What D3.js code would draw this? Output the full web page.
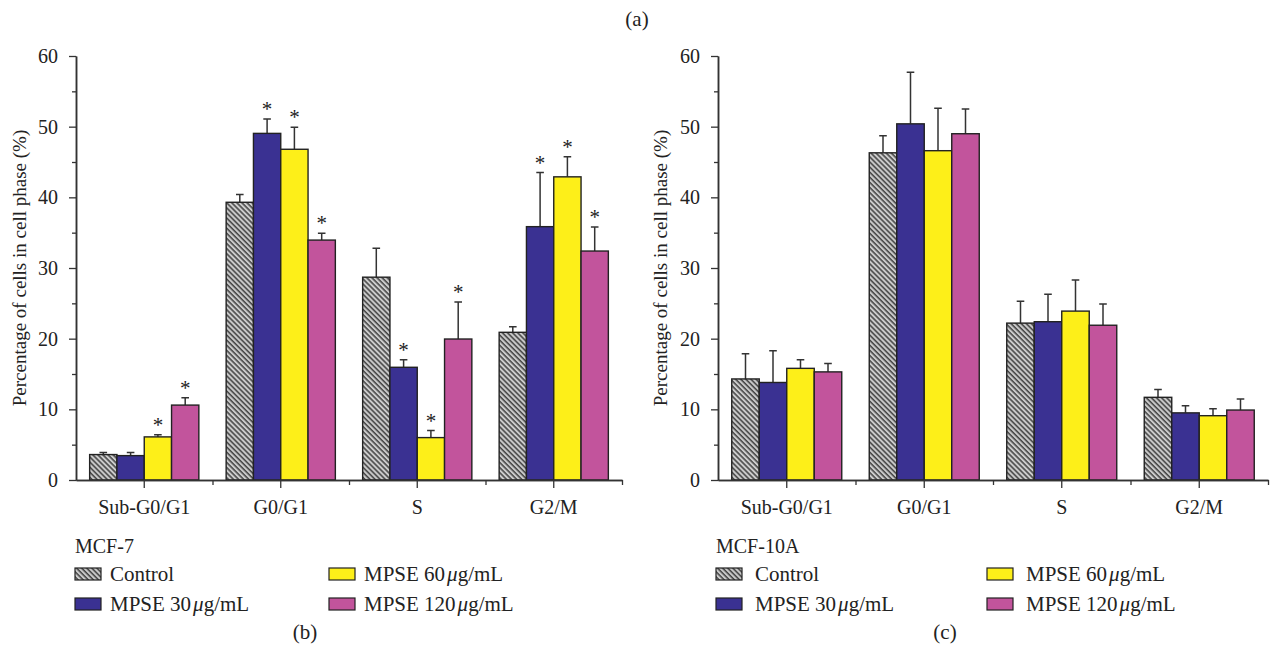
<!DOCTYPE html>
<html>
<head>
<meta charset="utf-8">
<script src="https://cdn.jsdelivr.net/npm/d3@7"></script>
<style>
  body { margin: 0; background: #fff; }
  svg text { font-family: "Liberation Serif", "DejaVu Serif", serif; fill: #222; }
</style>
</head>
<body>
<div id="chart"></div>
<script>
// categories and series
const phases = ["Sub-G0/G1", "G0/G1", "S", "G2/M"];
const seriesNames = ["Control", "MPSE 30", "MPSE 60", "MPSE 120"];

// MCF-7 (panel b)
const mcf7Control = [3.6, 39.3, 28.7, 20.9];
const mcf7Mpse30 = [3.45, 49.05, 15.95, 35.85];
const mcf7Mpse60 = [6.1, 46.8, 6.0, 42.9];
const mcf7Mpse120 = [10.6, 33.95, 19.95, 32.4];
const mcf7ControlErr = [0.3, 1.1, 4.1, 0.8];
const mcf7Mpse30Err = [0.45, 2.05, 1.05, 7.65];
const mcf7Mpse60Err = [0.3, 3.1, 1.0, 2.85];
const mcf7Mpse120Err = [1.05, 0.95, 5.25, 3.4];
const mcf7ControlSig = [false, false, false, false];
const mcf7Mpse30Sig = [false, true, true, true];
const mcf7Mpse60Sig = [true, true, true, true];
const mcf7Mpse120Sig = [true, true, true, true];

// MCF-10A (panel c)
const mcf10aControl = [14.3, 46.3, 22.2, 11.7];
const mcf10aMpse30 = [13.8, 50.4, 22.4, 9.5];
const mcf10aMpse60 = [15.8, 46.6, 23.9, 9.1];
const mcf10aMpse120 = [15.3, 49.0, 21.9, 9.9];
const mcf10aControlErr = [3.55, 2.4, 3.1, 1.1];
const mcf10aMpse30Err = [4.5, 7.3, 3.9, 1.0];
const mcf10aMpse60Err = [1.2, 6.0, 4.4, 1.0];
const mcf10aMpse120Err = [1.2, 3.5, 3.0, 1.55];
const noSig = [false, false, false, false];

const yTicks = [0, 10, 20, 30, 40, 50, 60];
const yMinorTicks = [5, 15, 25, 35, 45, 55];

const fills = ["url(#hatch)", "#3a3192", "#fdef19", "#c2549c"];

const width = 1273, height = 652;

const svg = d3.select("#chart").append("svg")
  .attr("width", width)
  .attr("height", height);

// hatch for the control bars
const pattern = svg.append("defs").append("pattern")
  .attr("id", "hatch")
  .attr("patternUnits", "userSpaceOnUse")
  .attr("width", 3.6)
  .attr("height", 3.6)
  .attr("patternTransform", "rotate(-45)");
pattern.append("rect")
  .attr("width", 3.6).attr("height", 3.6)
  .attr("fill", "#cbcbcb");
pattern.append("line")
  .attr("x1", 1).attr("y1", 0).attr("x2", 1).attr("y2", 3.6)
  .attr("stroke", "#2b2b2b").attr("stroke-width", 1.3);

svg.append("text")
  .attr("x", 637).attr("y", 26)
  .attr("text-anchor", "middle")
  .attr("font-size", 21)
  .text("(a)");

function buildRows(means, errs, sigs) {
  return phases.map((p, i) => ({
    phase: p,
    values: seriesNames.map((s, j) => ({
      series: s, idx: j,
      value: means[j][i], err: errs[j][i], sig: sigs[j][i]
    }))
  }));
}

function drawPanel(cfg) {
  const y = d3.scaleLinear().domain([0, 60]).range([480, 56]);
  const x = d3.scaleBand().domain(phases)
    .range([cfg.left, cfg.right])
    .paddingInner(0.2).paddingOuter(0.1);
  const xs = d3.scaleBand().domain(d3.range(seriesNames.length))
    .range([0, x.bandwidth()]);

  const g = svg.append("g");

  const rows = buildRows(cfg.means, cfg.errs, cfg.sigs);

  const groups = g.selectAll(".grp").data(rows).enter().append("g")
    .attr("transform", d => `translate(${x(d.phase)},0)`);

  // error bars (upper only)
  groups.selectAll(".err").data(d => d.values).enter().append("path")
    .attr("d", d => {
      const cx = xs(d.idx) + xs.bandwidth() / 2;
      const top = y(d.value + d.err);
      return `M${cx},${y(d.value)}V${top}M${cx - 3.8},${top}H${cx + 3.8}`;
    })
    .attr("fill", "none")
    .attr("stroke", "#333")
    .attr("stroke-width", 1.5);

  groups.selectAll(".bar").data(d => d.values).enter().append("rect")
    .attr("x", d => xs(d.idx))
    .attr("y", d => y(d.value))
    .attr("width", xs.bandwidth())
    .attr("height", d => y(0) - y(d.value))
    .attr("fill", d => fills[d.idx])
    .attr("stroke", "#222")
    .attr("stroke-width", 1.4);

  groups.selectAll(".star").data(d => d.values.filter(v => v.sig)).enter().append("text")
    .attr("x", d => xs(d.idx) + xs.bandwidth() / 2)
    .attr("y", d => y(d.value + d.err) - 3)
    .attr("text-anchor", "middle")
    .attr("font-size", 21)
    .attr("fill", "#444")
    .text("*");

  // y axis
  const yAxis = g.append("g")
    .attr("transform", `translate(${cfg.left},0)`)
    .call(d3.axisLeft(y).tickValues(yTicks).tickSize(7).tickSizeOuter(0).tickPadding(11));
  g.append("g")
    .attr("transform", `translate(${cfg.left},0)`)
    .call(d3.axisLeft(y).tickValues(yMinorTicks).tickSize(4).tickSizeOuter(0).tickFormat(""));

  // x axis: major ticks at phases, minor at group boundaries
  const xAxis = g.append("g")
    .attr("transform", "translate(0,480)")
    .call(d3.axisBottom(x).tickSize(8).tickSizeOuter(0).tickPadding(12));
  const xb = d3.scaleLinear().domain([0, phases.length]).range([cfg.left, cfg.right]);
  g.append("g")
    .attr("transform", "translate(0,480)")
    .call(d3.axisBottom(xb).tickValues([1, 2, 3, 4]).tickSize(5).tickSizeOuter(0).tickFormat(""));

  g.selectAll(".domain").attr("stroke", "#333").attr("stroke-width", 1.5);
  g.selectAll(".tick line").attr("stroke", "#333").attr("stroke-width", 1.3);
  yAxis.selectAll("text").attr("font-size", 20).attr("fill", "#222")
    .attr("font-family", "Liberation Serif");
  xAxis.selectAll("text").attr("font-size", 20).attr("fill", "#222")
    .attr("font-family", "Liberation Serif");

  g.append("text")
    .attr("transform", `translate(${cfg.titleX},${(56 + 480) / 2}) rotate(-90)`)
    .attr("text-anchor", "middle")
    .attr("font-size", 19)
    .text("Percentage of cells in cell phase (%)");

  // legend
  const lg = svg.append("g");
  lg.append("text")
    .attr("x", cfg.legendX).attr("y", 553)
    .attr("font-size", 20)
    .text(cfg.cell);

  const legendItems = [
    { idx: 0, col: 0, row: 0, label: "Control" },
    { idx: 1, col: 0, row: 1, label: "MPSE 30", unit: true },
    { idx: 2, col: 1, row: 0, label: "MPSE 60", unit: true },
    { idx: 3, col: 1, row: 1, label: "MPSE 120", unit: true }
  ];
  const item = lg.selectAll(".item").data(legendItems).enter().append("g")
    .attr("transform", d => `translate(${cfg.legendX + d.col * cfg.legendCol},${568 + d.row * 30})`);
  item.append("rect")
    .attr("x", 0).attr("y", 0)
    .attr("width", 26).attr("height", 12)
    .attr("fill", d => fills[d.idx])
    .attr("stroke", "#222")
    .attr("stroke-width", 1.2);
  const t = item.append("text")
    .attr("x", cfg.legendText).attr("y", 12.5)
    .attr("font-size", 21);
  t.append("tspan").text(d => d.label);
  t.filter(d => d.unit).append("tspan").attr("dx", 2).attr("font-style", "italic").text("\u03bc");
  t.filter(d => d.unit).append("tspan").text("g/mL");

  svg.append("text")
    .attr("x", cfg.letterX).attr("y", 639)
    .attr("text-anchor", "middle")
    .attr("font-size", 21)
    .text(cfg.letter);
}

drawPanel({
  left: 76, right: 622, titleX: 26,
  means: [mcf7Control, mcf7Mpse30, mcf7Mpse60, mcf7Mpse120],
  errs: [mcf7ControlErr, mcf7Mpse30Err, mcf7Mpse60Err, mcf7Mpse120Err],
  sigs: [mcf7ControlSig, mcf7Mpse30Sig, mcf7Mpse60Sig, mcf7Mpse120Sig],
  cell: "MCF-7", legendX: 75, legendCol: 254, legendText: 35,
  letter: "(b)", letterX: 305
});

drawPanel({
  left: 718, right: 1268, titleX: 667,
  means: [mcf10aControl, mcf10aMpse30, mcf10aMpse60, mcf10aMpse120],
  errs: [mcf10aControlErr, mcf10aMpse30Err, mcf10aMpse60Err, mcf10aMpse120Err],
  sigs: [noSig, noSig, noSig, noSig],
  cell: "MCF-10A", legendX: 716, legendCol: 271, legendText: 39,
  letter: "(c)", letterX: 945
});
</script>
</body>
</html>
